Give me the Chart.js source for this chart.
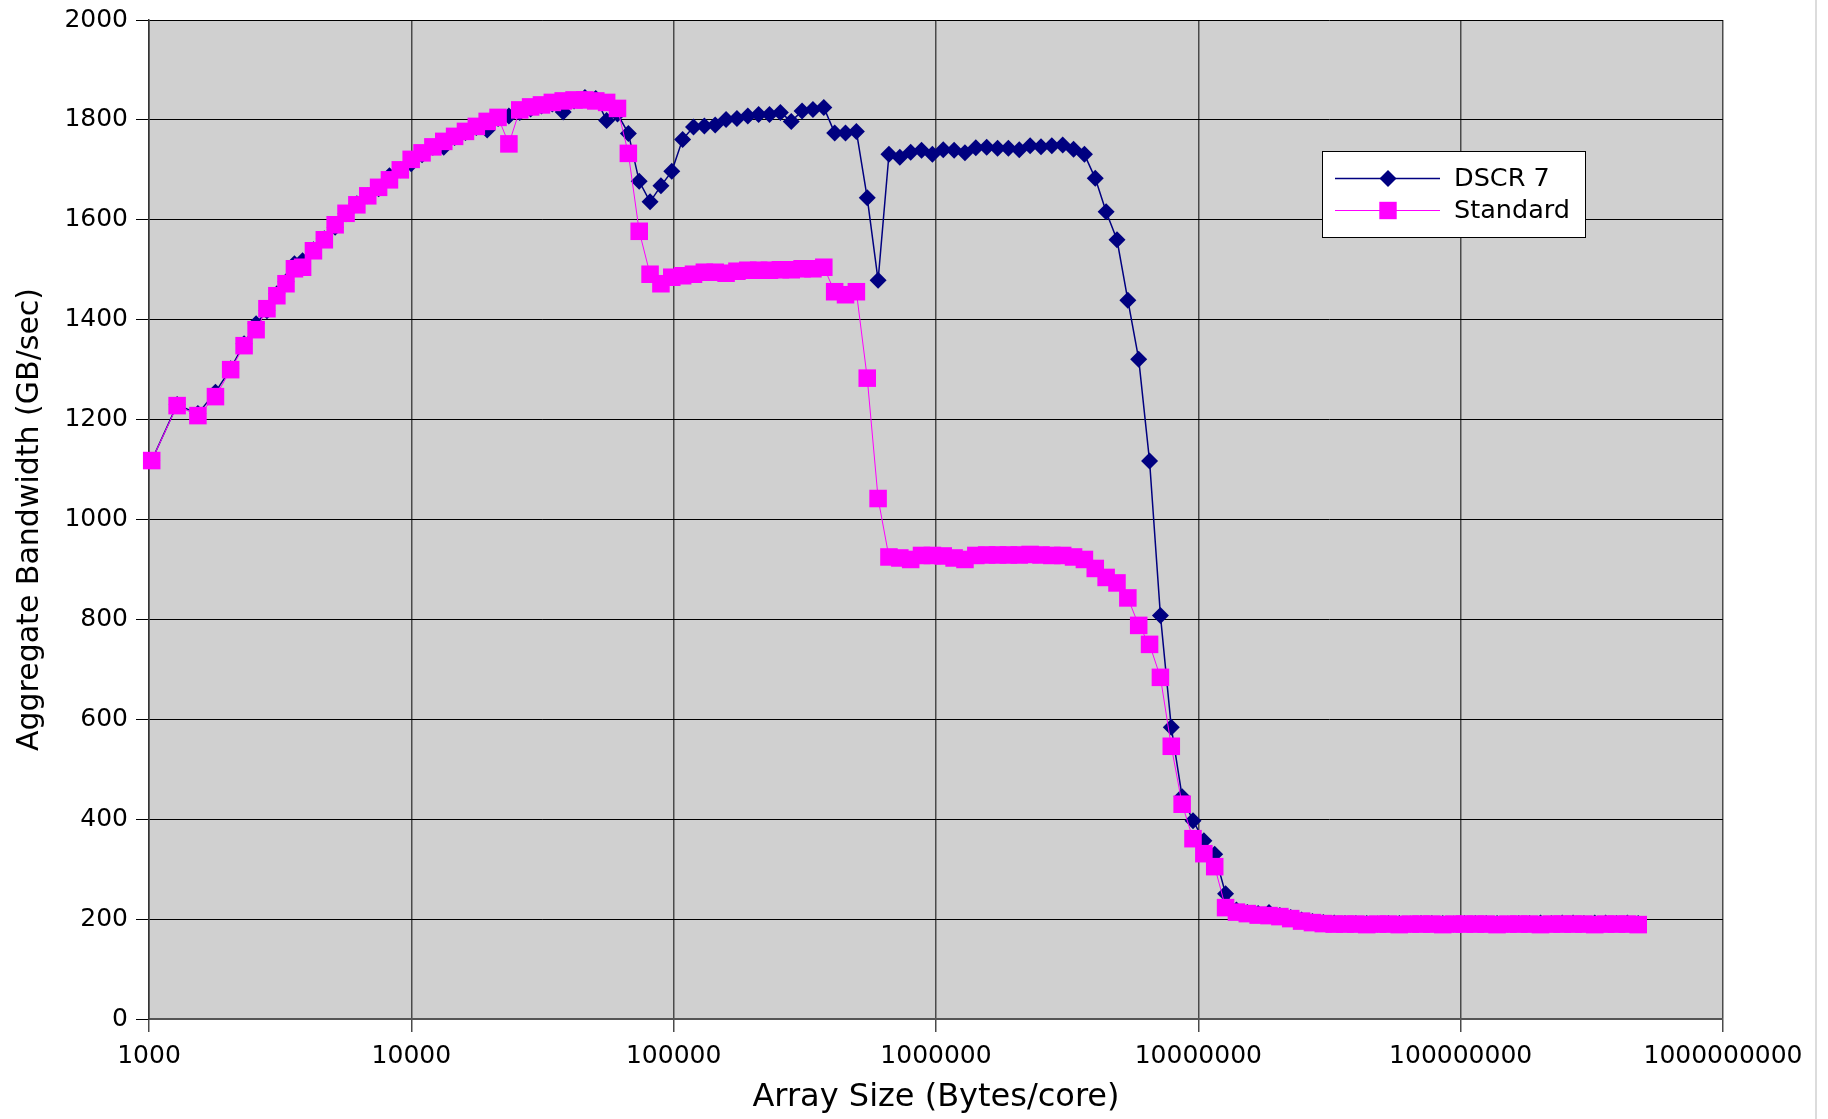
<!DOCTYPE html>
<html><head><meta charset="utf-8">
<script src="https://cdn.jsdelivr.net/npm/chart.js@4"></script>
<style>html,body{margin:0;padding:0;background:#fff;}canvas{display:block;}</style>
</head><body>
<canvas id="c" width="1828" height="1119"></canvas>
<script>
// Array size (Bytes/core) of each measured point
const sizes = [1024,1280,1536,1792,2048,2304,2560,2816,3072,3328,3584,
3850,4235,4659,5124,5637,6200,6821,7503,8253,9078,
9986,10985,12083,13291,14621,16083,17691,19460,21406,23546,
25901,28491,31340,34474,37922,41714,45885,50474,55521,61073,
67181,73899,81289,89418,98359,108195,119015,130916,144008,158409,
174250,191675,210842,231926,255119,280631,308694,339563,373520,410872,
451959,497155,546870,601557,661713,727884,800672,880739,968813,1065695,
1172264,1289491,1418440,1560284,1716312,1887944,2076738,2284412,2512853,2764138,
3040552,3344607,3679068,4046975,4451672,4896840,5386524,5925176,6517694,7169463,
7886409,8675050,9542555,10496811,11546492,12701141,13971255,15368381,16905219,18595741,
20455315,22500847,24750931,27226025,29948627,32943490,36237839,39861623,43847785,48232563,
53055820,58361402,64197542,70617296,77679026,85446928,93991621,103390783,113729862,125102848,
137613133,151374446,166511891,183163080,201479388,221627327,243790060,268169066,294985972,324484570,
356933027,392626329,431888962,475077859];

// Aggregate bandwidth (GB/sec), series "DSCR 7"
const dscr7 = [1118,1230,1212,1255,1302,1352,1392,1418,1452,1476,1512,
1518,1540,1562,1585,1612,1632,1648,1662,1688,1700,
1712,1730,1745,1745,1765,1775,1785,1780,1803,1808,
1815,1822,1828,1832,1816,1838,1845,1843,1799,1812,
1773,1677,1636,1668,1697,1761,1786,1788,1790,1801,
1803,1808,1811,1811,1815,1797,1818,1821,1825,1774,
1774,1777,1644,1479,1731,1725,1735,1739,1731,1740,
1739,1734,1744,1745,1743,1743,1740,1748,1746,1748,
1750,1741,1731,1683,1616,1560,1439,1321,1117,808,
584,445,397,357,330,251,218,213,211,213,
207,203,198,195,193,192,
191,191,191,190,191,191,190,191,191,191,190,191,191,191,191,190,191,191,192,191,192,192,191,192,192,191,192,191];

// Aggregate bandwidth (GB/sec), series "Standard"
const standard = [1118,1228,1208,1246,1300,1348,1380,1422,1448,1472,1502,
1505,1538,1560,1590,1613,1630,1648,1665,1680,1700,
1721,1734,1746,1757,1767,1777,1787,1797,1805,1752,
1820,1826,1830,1835,1838,1840,1840,1838,1835,1823,
1733,1577,1491,1472,1485,1488,1491,1495,1495,1493,
1497,1499,1499,1499,1500,1500,1502,1502,1505,1456,
1450,1456,1283,1042,925,923,920,928,928,927,
923,920,928,929,929,929,929,930,929,928,
928,925,920,902,884,873,843,788,750,684,
546,430,361,331,305,223,214,211,208,207,
205,201,196,193,191,190,
190,190,189,190,190,189,190,190,190,189,190,190,190,190,189,190,190,190,189,190,190,190,190,189,190,190,190,189];

const seriesNames = ['DSCR 7', 'Standard'];
const xTickValues = [1000, 10000, 100000, 1000000, 10000000, 100000000, 1000000000];
const yMin = 0, yMax = 2000, yStep = 200;
const xTitle = 'Array Size (Bytes/core)';
const yTitle = 'Aggregate Bandwidth (GB/sec)';

const FONT = '"DejaVu Sans", "Bitstream Vera Sans", sans-serif';

const plotBg = {
  id: 'plotBg',
  beforeDraw(chart) {
    const {ctx, chartArea: a} = chart;
    ctx.save();
    ctx.fillStyle = '#d0d0d0';
    ctx.fillRect(a.left, a.top, a.right - a.left, a.bottom - a.top);
    ctx.restore();
  },
  afterDraw(chart) {
    const ctx = chart.ctx;
    ctx.save();
    ctx.strokeStyle = '#dcdcdc';
    ctx.lineWidth = 2;
    ctx.beginPath(); ctx.moveTo(1816, 0); ctx.lineTo(1816, 1119); ctx.stroke();
    ctx.restore();
  }
};

const legendBox = {
  id: 'legendBox',
  afterDraw(chart) {
    const ctx = chart.ctx;
    const bx = 1322.5, by = 151.5, bw = 263, bh = 86;
    ctx.save();
    ctx.fillStyle = '#ffffff';
    ctx.fillRect(bx, by, bw, bh);
    ctx.strokeStyle = '#000';
    ctx.lineWidth = 1;
    ctx.strokeRect(bx, by, bw, bh);
    const rowsY = [178.5, 210.5];
    chart.data.datasets.forEach((ds, i) => {
      const y = rowsY[i];
      ctx.strokeStyle = ds.borderColor;
      ctx.lineWidth = ds.borderWidth;
      ctx.beginPath(); ctx.moveTo(1335, y); ctx.lineTo(1440, y); ctx.stroke();
      ctx.fillStyle = ds.backgroundColor;
      const cx = 1388;
      if (ds.pointStyle === 'rectRot') {
        const r = 8.5;
        ctx.beginPath();
        ctx.moveTo(cx - r, y); ctx.lineTo(cx, y - r); ctx.lineTo(cx + r, y); ctx.lineTo(cx, y + r);
        ctx.closePath(); ctx.fill();
      } else {
        const h = 8.7;
        ctx.fillRect(cx - h, y - h, 2 * h, 2 * h);
      }
      ctx.fillStyle = '#000';
      ctx.font = '25.5px ' + FONT;
      ctx.textBaseline = 'middle';
      ctx.textAlign = 'left';
      ctx.fillText(ds.label, 1454, y + 1);
    });
    ctx.restore();
  }
};

new Chart(document.getElementById('c'), {
  type: 'line',
  data: {
    datasets: [
      {
        label: seriesNames[0],
        data: sizes.map((s, i) => ({x: s, y: dscr7[i]})),
        borderColor: '#000080', backgroundColor: '#000080',
        borderWidth: 1.5, tension: 0,
        pointStyle: 'rectRot', pointRadius: 8.5, pointHoverRadius: 8.5, pointBorderWidth: 0,
        order: 2, clip: false
      },
      {
        label: seriesNames[1],
        data: sizes.map((s, i) => ({x: s, y: standard[i]})),
        borderColor: '#ff00ff', backgroundColor: '#ff00ff',
        borderWidth: 1, tension: 0,
        pointStyle: 'rect', pointRadius: 12.4, pointHoverRadius: 12.4, pointBorderWidth: 0,
        order: 1, clip: false
      }
    ]
  },
  options: {
    responsive: false,
    animation: false,
    devicePixelRatio: 1,
    events: [],
    layout: {padding: {left: 0, top: 20, right: 105, bottom: 0}},
    plugins: {legend: {display: false}, tooltip: {enabled: false}},
    scales: {
      x: {
        type: 'logarithmic',
        min: xTickValues[0], max: xTickValues[xTickValues.length - 1],
        afterBuildTicks(s) { s.ticks = xTickValues.map(v => ({value: v})); },
        afterFit(s) { s.height = 100; },
        ticks: {
          callback: v => String(v),
          font: {family: FONT, size: 25}, color: '#000',
          padding: 9, maxRotation: 0, autoSkip: false
        },
        grid: {color: '#4a4a4a', lineWidth: 1.5, tickLength: 13, tickColor: '#4a4a4a'},
        border: {color: '#555', width: 2},
        title: {display: true, text: xTitle, font: {family: FONT, size: 32}, color: '#000', padding: {top: 0, bottom: 2}}
      },
      y: {
        min: yMin, max: yMax,
        afterFit(s) { s.width = 149; s.paddingTop = 0; s.paddingBottom = 0; },
        ticks: {
          stepSize: yStep,
          callback: v => String(v),
          font: {family: FONT, size: 25}, color: '#000',
          padding: 8
        },
        grid: {color: '#000', lineWidth: 1, tickLength: 13, tickColor: '#000'},
        border: {color: '#333', width: 1.5},
        title: {display: true, text: yTitle, font: {family: FONT, size: 30}, color: '#000', padding: {top: 12, bottom: 0}}
      }
    }
  },
  plugins: [plotBg, legendBox]
});
</script>
</body></html>
